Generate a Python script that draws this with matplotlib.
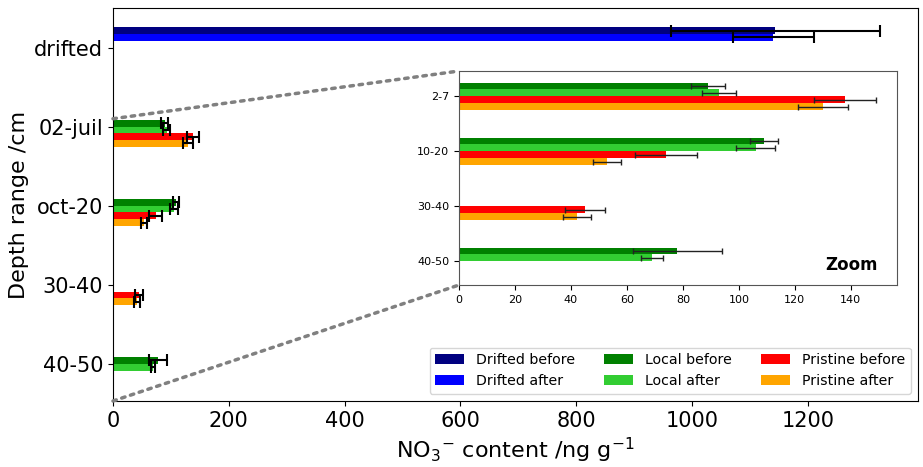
import numpy as np
import matplotlib
matplotlib.use("Agg")
import matplotlib.pyplot as plt
from matplotlib.patches import ConnectionPatch

# main chart categories (labels as in the original sheet)
cats = ["drifted", "02-juil", "oct-20", "30-40", "40-50"]
zoom_cats = ["2-7", "10-20", "30-40", "40-50"]

series = ["Drifted before", "Drifted after", "Local before", "Local after",
          "Pristine before", "Pristine after"]
colors = ["navy", "blue", "green", "limegreen", "red", "orange"]

nan = np.nan
drifted_before = [1144, nan, nan, nan, nan]
drifted_before_err = [180, nan, nan, nan, nan]
drifted_after = [1140, nan, nan, nan, nan]
drifted_after_err = [70, nan, nan, nan, nan]
local_before = [nan, 89, 109, nan, 78]
local_before_err = [nan, 6, 5, nan, 16]
local_after = [nan, 93, 106, nan, 69]
local_after_err = [nan, 6, 7, nan, 4]
pristine_before = [nan, 138, 74, 45, nan]
pristine_before_err = [nan, 11, 11, 7, nan]
pristine_after = [nan, 130, 53, 42, nan]
pristine_after_err = [nan, 9, 5, 5, nan]

vals = [drifted_before, drifted_after, local_before, local_after,
        pristine_before, pristine_after]
errs = [drifted_before_err, drifted_after_err, local_before_err, local_after_err,
        pristine_before_err, pristine_after_err]

fig = plt.figure(figsize=(9.23, 4.67), dpi=100)
ax = fig.add_axes([0.1224, 0.1413, 0.872, 0.8415])

y = np.arange(len(cats))
h = 0.085
for i in range(6):
    ax.barh(y + (i - 2.5) * h, vals[i], height=h, color=colors[i], label=series[i],
            xerr=errs[i], error_kw=dict(ecolor="black", elinewidth=1.5, capsize=4, capthick=1.5))

ax.set_yticks(y)
ax.set_yticklabels(cats, fontsize=15)
ax.set_ylim(4.47, -0.5)
ax.set_xlim(0, 1390)
ax.tick_params(axis="x", labelsize=15)
ax.set_xlabel("NO$_3$$^{-}$ content /ng g$^{-1}$", fontsize=16)
ax.set_ylabel("Depth range /cm", fontsize=16)
ax.legend(loc="lower right", ncol=3, fontsize=10.2, handlelength=2.0,
          handletextpad=0.85, columnspacing=2.1, borderaxespad=0.5)

# zoomed inset (without the drifted samples)
axins = fig.add_axes([459 / 923, (467 - 285) / 467, (897 - 459) / 923, (285 - 71) / 467])
yz = np.arange(len(zoom_cats))
for j, i in enumerate(range(2, 6)):
    axins.barh(yz + (j - 1.5) * 0.125, vals[i][1:], height=0.125, color=colors[i],
               xerr=errs[i][1:], error_kw=dict(ecolor="#222222", elinewidth=1, capsize=2, capthick=1))
axins.set_yticks(yz)
axins.set_yticklabels(zoom_cats, fontsize=8)
axins.tick_params(axis="x", labelsize=8)
axins.set_ylim(3.43, -0.46)
axins.set_xlim(0, 156.5)
axins.set_xticks(np.arange(0, 141, 20))
for s in axins.spines.values():
    s.set_color("#555555")
axins.text(0.955, 0.05, "Zoom", transform=axins.transAxes, ha="right", va="bottom",
           fontsize=12, fontweight="bold")

# dotted connectors from the main plot to the inset
for ya, yb in [(0.9, 1), (4.47, 0)]:
    con = ConnectionPatch(xyA=(0, ya), coordsA=ax.transData,
                          xyB=(0, yb), coordsB=axins.transAxes,
                          linestyle=":", color="gray", linewidth=2.5)
    fig.add_artist(con)

plt.savefig("out.png", dpi=100)
